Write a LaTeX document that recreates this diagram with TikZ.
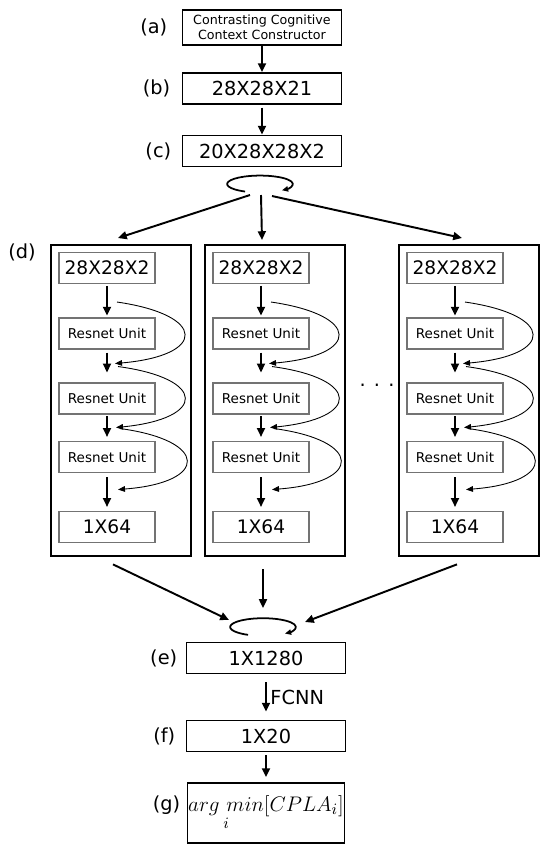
\documentclass[tikz,border=0pt]{standalone}
\usepackage{fontspec}
\setmainfont{DejaVu Sans}
\usetikzlibrary{positioning, arrows.meta, calc}

\begin{document}
\begin{tikzpicture}[x=0.02cm, y=0.02cm,
    every node/.style={font=\fontsize{11}{13}\selectfont},
    block/.style={draw, line width=1.1pt, minimum width=3.18cm, minimum height=0.62cm, inner sep=0pt},
    unit/.style={draw=black!55, line width=0.6pt, minimum width=1.92cm, minimum height=0.62cm, inner sep=0pt},
    frame/.style={draw, line width=1.6pt, minimum width=2.8cm, minimum height=6.22cm, inner sep=0pt},
    tag/.style={inner sep=0pt, font=\fontsize{11}{13}\selectfont},
    arr/.style={-{Triangle[length=5pt,width=4.5pt]}, line width=1.1pt},
    skip/.style={-{Triangle[length=4pt,width=3.2pt]}, line width=0.5pt},
    spin/.style={-{Triangle[length=3.5pt,width=3pt]}, line width=1pt},
  ]
  \useasboundingbox (0,0) rectangle (550,-850);

  % Top chain
  \node[block, minimum height=0.70cm, align=center, font=\fontsize{7.2}{8.6}\selectfont]
    (a) at (262,-27.5) {Contrasting Cognitive\\Context Constructor};
  \node[block] (b) at (262,-88.5) {28X28X21};
  \node[block] (c) at (262,-151) {20X28X28X2};
  \node[tag, left=0.28cm of a] {(a)};
  \node[tag, left=0.22cm of b] {(b)};
  \node[tag, left=0.2cm of c] {(c)};
  \draw[arr] (a) -- (b);
  \draw[arr, shorten <=1.5pt] (b) -- (c);

  % Split loop
  \coordinate (spinA) at (260,-184);
  \draw[spin] ([shift={(243:18.7pt and 4.8pt)}]spinA)
    arc[start angle=243, end angle=-48, x radius=18.7pt, y radius=4.8pt];
  \coordinate (fork) at (261,-195);
  \coordinate (tip1) at (118,-238);
  \coordinate (tip2) at (262,-240);
  \coordinate (tip3) at (462,-238);
  \draw[arr] ([shift={(-11,0)}]fork) -- (tip1);
  \draw[arr] (fork) -- (tip2);
  \draw[arr] ([shift={(11,-1)}]fork) -- (tip3);

  \node[tag] at (22,-252) {(d)};

  % Columns
  \foreach \c/\bx in {1/107, 2/261, 3/455} {
    \node[frame] (col\c) at (\bx+14,-400.5) {};
    \node[unit, font=\fontsize{10.6}{12}\selectfont] (in\c) at (\bx,-268) {28X28X2};
    \node[unit, font=\fontsize{7.7}{9}\selectfont] (ra\c) at (\bx,-333.5) {Resnet Unit};
    \node[unit, font=\fontsize{7.7}{9}\selectfont] (rb\c) at (\bx,-398.5) {Resnet Unit};
    \node[unit, font=\fontsize{7.7}{9}\selectfont] (rc\c) at (\bx,-457) {Resnet Unit};
    \node[unit, font=\fontsize{10.6}{12}\selectfont] (out\c) at (\bx,-527) {1X64\hspace{0.22cm}};
    \draw[arr, shorten <=1.1pt, shorten >=1.1pt] (in\c) -- (ra\c);
    \draw[arr, shorten <=1.7pt, shorten >=5.7pt] (ra\c) -- (rb\c);
    \draw[arr, shorten <=1.1pt, shorten >=2.3pt] (rb\c) -- (rc\c);
    \draw[arr, shorten <=2.3pt, shorten >=2.3pt] (rc\c) -- (out\c);
    \draw[skip] ([shift={(10,-18)}]in\c.south) .. controls +(90,-13) and +(92,8) .. ([shift={(8,-14)}]ra\c.south);
    \draw[skip] ([shift={(11,-17)}]ra\c.south) .. controls +(89,-12) and +(91,9) .. ([shift={(9,-13)}]rb\c.south);
    \draw[skip] ([shift={(13,-14)}]rb\c.south) .. controls +(89,-12) and +(91,7) .. ([shift={(11,-16.5)}]rc\c.south);
  }
  \node (dots) at (377,-385) {. . .};

  % Merge loop
  \coordinate (mergeL) at (229,-620);
  \coordinate (mergeC) at (263,-608);
  \coordinate (mergeR) at (305,-622);
  \draw[arr] ([shift={(-8,-7)}]col1.south) -- (mergeL);
  \draw[arr] ([shift={(-12,-12)}]col2.south) -- (mergeC);
  \draw[arr] ([shift={(-12,-7)}]col3.south) -- (mergeR);
  \coordinate (spinB) at (263,-627);
  \draw[spin] ([shift={(243:18.7pt and 5pt)}]spinB)
    arc[start angle=243, end angle=-48, x radius=18.7pt, y radius=5pt];

  % Bottom chain
  \node[block] (e) at (266,-658) {1X1280};
  \node[block] (f) at (266,-736) {1X20};
  \node[block, minimum width=3.14cm, minimum height=1.2cm] (g) at (266,-813)
    {\fontsize{12.5}{15}\selectfont$\mathop{arg\ min}\limits_{i}[CPLA_i]$};
  \node[tag, left=0.16cm of e] {(e)};
  \node[tag, left=0.2cm of f] {(f)};
  \node[tag, left=0.12cm of g, yshift=0.16cm] {(g)};
  \draw[arr, shorten <=4.5pt, shorten >=4.5pt] (e) -- node[right, inner sep=2pt] {FCNN} (f);
  \draw[arr, shorten <=1.7pt, shorten >=2.8pt] (f) -- (g);
\end{tikzpicture}
\end{document}
